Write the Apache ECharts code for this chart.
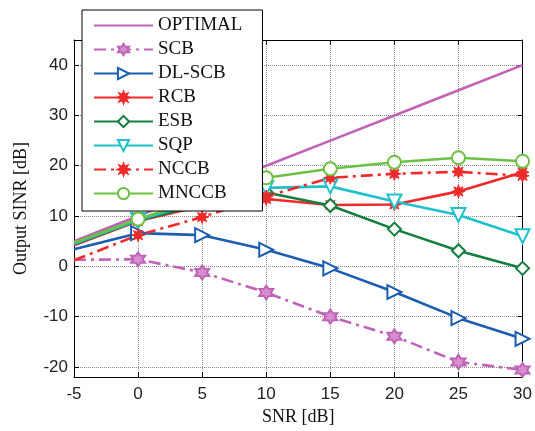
<!DOCTYPE html>
<html>
<head>
<meta charset="utf-8">
<script src="https://cdn.jsdelivr.net/npm/echarts@6/dist/echarts.min.js"></script>
<style>html,body{margin:0;padding:0;background:#fff}#c{width:535px;height:431px}</style>
</head>
<body>
<div id="c"></div>
<script>
const snr = [-5, 0, 5, 10, 15, 20, 25, 30];
const optimal = [5, 10, 15, 20, 25, 30, 35, 40];
const scb = [1.3, 1.4, -1.2, -5.2, -10, -13.9, -19, -20.6];
const dlscb = [3.4, 6.6, 6.2, 3.3, -0.4, -5.1, -10.3, -14.4];
const rcb = [4.2, 9.0, 12.0, 13.4, 12.2, 12.3, 14.9, 18.7];
const esb = [4.4, 9.1, 12.3, 14.7, 12.1, 7.4, 3.1, -0.4];
const sqp = [4.5, 9.2, 13.0, 15.6, 15.9, 12.9, 10.2, 6.0];
const nccb = [1.2, 6.2, 9.8, 13.9, 17.6, 18.4, 18.8, 18.0];
const mnccb = [4.7, 9.4, 13.5, 17.6, 19.4, 20.7, 21.6, 20.9];
const seriesNames = ['OPTIMAL', 'SCB', 'DL-SCB', 'RCB', 'ESB', 'SQP', 'NCCB', 'MNCCB'];

const HEX = 'path://M0,-10 L2.887,-5 L8.66,-5 L5.774,0 L8.66,5 L2.887,5 L0,10 L-2.887,5 L-8.66,5 L-5.774,0 L-8.66,-5 L-2.887,-5 Z';
const STAR = 'path://M0,-10 L1.91,-4.62 L7.07,-7.07 L4.62,-1.91 L10,0 L4.62,1.91 L7.07,7.07 L1.91,4.62 L0,10 L-1.91,4.62 L-7.07,7.07 L-4.62,1.91 L-10,0 L-4.62,-1.91 L-7.07,-7.07 L-1.91,-4.62 Z';
const DASHDOT = [12, 5, 3, 5];

function pts(arr) {
  return arr.map((v, i) => i === 0 ? { value: [snr[i], v], symbol: 'none' } : [snr[i], v]);
}
function mk(name, arr, color, symbol, size, opts) {
  opts = opts || {};
  return {
    name: name, type: 'line', data: pts(arr),
    symbol: symbol, symbolSize: size, symbolRotate: opts.rotate || 0,
    showAllSymbol: true,
    lineStyle: { color: color, width: 2.6, type: opts.dash || 'solid' },
    itemStyle: { color: opts.fill || color, borderColor: color, borderWidth: opts.bw || 2 },
    emphasis: { disabled: true },
    z: opts.z || 2
  };
}

const chart = echarts.init(document.getElementById('c'), null, { renderer: 'canvas' });
const magenta = '#C062B8', blue = '#1B5DB0', red = '#F02A2A', dgreen = '#137E3E', cyan = '#1EC2CA', lgreen = '#6CC043';
const axisCommon = {
  type: 'value',
  axisLine: { show: true, onZero: false, lineStyle: { color: '#000', width: 1 } },
  axisTick: { show: true, inside: true, length: 5, lineStyle: { color: '#000' } },
};
chart.setOption({
  animation: false,
  backgroundColor: '#fff',
  grid: { left: 74, right: 11, top: 40, bottom: 50 },
  legend: {
    orient: 'vertical', left: 82, top: 10,
    backgroundColor: '#fff', borderColor: '#000', borderWidth: 1, borderRadius: 0,
    padding: [6, 20, 8, 11], itemWidth: 59, itemHeight: 14, itemGap: 5,
    textStyle: { fontFamily: 'Liberation Serif', fontSize: 19, lineHeight: 19, color: '#111' },
    data: seriesNames.map(n => n === 'OPTIMAL' ? { name: n, itemStyle: { opacity: 0 } } : n)
  },
  xAxis: [
    Object.assign({}, axisCommon, {
      min: -5, max: 30, interval: 5, position: 'bottom',
      axisLabel: { fontFamily: 'Liberation Sans', fontSize: 17, color: '#222', margin: 9 },
      splitLine: { show: true, lineStyle: { color: '#8a8a8a', type: 'dotted', width: 1 } },
      name: 'SNR [dB]', nameLocation: 'middle', nameGap: 31,
      nameTextStyle: { fontFamily: 'Liberation Serif', fontSize: 18, color: '#111' }
    }),
    Object.assign({}, axisCommon, {
      min: -5, max: 30, interval: 5, position: 'top',
      axisLabel: { show: false }, splitLine: { show: false }
    })
  ],
  yAxis: [
    Object.assign({}, axisCommon, {
      min: -22, max: 45, position: 'left',
      axisLabel: { fontFamily: 'Liberation Sans', fontSize: 17, color: '#222', margin: 6, showMinLabel: false, showMaxLabel: false },
      splitLine: { show: true, lineStyle: { color: '#8a8a8a', type: 'dotted', width: 1 } },
      name: 'Output SINR [dB]', nameLocation: 'middle', nameGap: 44, nameRotate: 90,
      nameTextStyle: { fontFamily: 'Liberation Serif', fontSize: 18, color: '#111' }
    }),
    Object.assign({}, axisCommon, {
      min: -22, max: 45, position: 'right',
      axisLabel: { show: false }, splitLine: { show: false }
    })
  ],
  series: [
    mk('OPTIMAL', optimal, magenta, 'none', 0),
    mk('SCB', scb, magenta, HEX, 14, { dash: DASHDOT, fill: '#d68fcf' }),
    mk('DL-SCB', dlscb, blue, 'triangle', 14, { rotate: -90, fill: '#fff' }),
    mk('RCB', rcb, red, STAR, 13, { bw: 1 }),
    mk('ESB', esb, dgreen, 'diamond', 13, { fill: '#fff' }),
    mk('SQP', sqp, cyan, 'triangle', 14, { rotate: 180, fill: '#fff' }),
    mk('NCCB', nccb, red, STAR, 13, { dash: DASHDOT, bw: 1 }),
    mk('MNCCB', mnccb, lgreen, 'circle', 13, { fill: '#fff' })
  ]
});
</script>
</body>
</html>
